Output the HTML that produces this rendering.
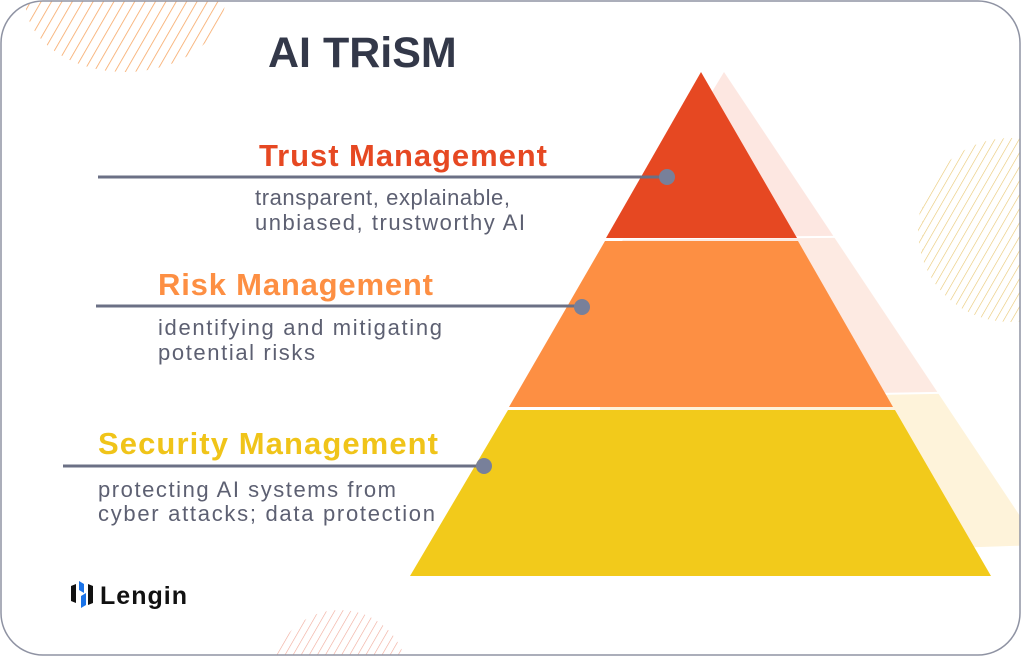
<!DOCTYPE html>
<html><head><style>
html,body{margin:0;width:1024px;height:657px;background:#fff;overflow:hidden;font-family:"Liberation Sans",sans-serif}
svg{display:block;position:absolute;left:0;top:0}
</style></head><body>
<svg width="1024" height="657" viewBox="0 0 1024 657" xmlns="http://www.w3.org/2000/svg">
<defs>
<pattern id="ho" width="9" height="9" patternUnits="userSpaceOnUse" patternTransform="rotate(30)"><line x1="0" y1="0" x2="0" y2="9" stroke="#f7a866" stroke-width="1.6"/></pattern>
<pattern id="hy" width="7" height="7" patternUnits="userSpaceOnUse" patternTransform="rotate(30)"><line x1="0" y1="0" x2="0" y2="7" stroke="#e8c670" stroke-width="1.2"/></pattern>
<pattern id="hp" width="7" height="7" patternUnits="userSpaceOnUse" patternTransform="rotate(30)"><line x1="0" y1="0" x2="0" y2="7" stroke="#f0a898" stroke-width="1.2"/></pattern>
<clipPath id="card"><rect x="1" y="1" width="1019" height="654" rx="42"/></clipPath>
<clipPath id="sh"><polygon points="724,72 1060,576 420,576"/></clipPath>
</defs>
<g clip-path="url(#card)">
<path d="M25,0 A100,72 0 0 0 225,0 Z" fill="url(#ho)"/>
<circle cx="1010" cy="230" r="92" fill="url(#hy)"/>
<circle cx="340" cy="678" r="68" fill="url(#hp)"/>
<g clip-path="url(#sh)">
<polygon points="600,60 1040,60 1040,234 600,238" fill="#fde7e1"/>
<polygon points="600,240 1040,236 1040,390 600,398" fill="#fdeae2"/>
<polygon points="600,400 1040,392 1040,545 600,560" fill="#fef3da"/>
</g>
</g>
<rect x="1" y="1" width="1019" height="654" rx="42" fill="none" stroke="#8f93a3" stroke-width="1.5"/>
<polygon points="701,72 797,238 606,238" fill="#e64822"/>
<polygon points="605,241 798,241 893,407 509,407" fill="#fd8f43"/>
<polygon points="508,410 895,410 991,576 410,576" fill="#f2ca1b"/>
<g stroke="#6b7085" stroke-width="3"><line x1="98" y1="177" x2="667" y2="177"/><line x1="96" y1="306" x2="582" y2="306"/><line x1="63" y1="466" x2="484" y2="466"/></g>
<g fill="#78809a"><circle cx="667" cy="177" r="8"/><circle cx="582" cy="307" r="8"/><circle cx="484" cy="466" r="8"/></g>
<text x="268" y="67" font-size="43" font-weight="bold" fill="#333849">AI TRiSM</text>
<text x="259" y="166" font-size="31" font-weight="bold" fill="#e64822" textLength="288">Trust Management</text>
<text x="255" y="205" font-size="22" fill="#5d6072" textLength="255">transparent, explainable,</text>
<text x="255" y="230" font-size="22" fill="#5d6072" textLength="270">unbiased, trustworthy AI</text>
<text x="158" y="295" font-size="31" font-weight="bold" fill="#fd8f43" textLength="275">Risk Management</text>
<text x="158" y="335" font-size="22" fill="#5d6072" textLength="284">identifying and mitigating</text>
<text x="158" y="360" font-size="22" fill="#5d6072" textLength="157">potential risks</text>
<text x="98" y="454" font-size="31" font-weight="bold" fill="#f0c419" textLength="340">Security Management</text>
<text x="98" y="497" font-size="22" fill="#5d6072" textLength="298">protecting AI systems from</text>
<text x="98" y="521" font-size="22" fill="#5d6072" textLength="337">cyber attacks; data protection</text>
<g><polygon points="71,586 76,584 76,603 71,601" fill="#111"/><polygon points="79,581 84,584 84,593 79,590" fill="#1a73e8"/><polygon points="81,596 86,593 86,605 81,608" fill="#1a73e8"/><polygon points="88,584 93,586 93,603 88,605" fill="#111"/></g>
<text x="100" y="604" font-size="25" font-weight="bold" fill="#111" textLength="87">Lengin</text>
</svg>
</body></html>
